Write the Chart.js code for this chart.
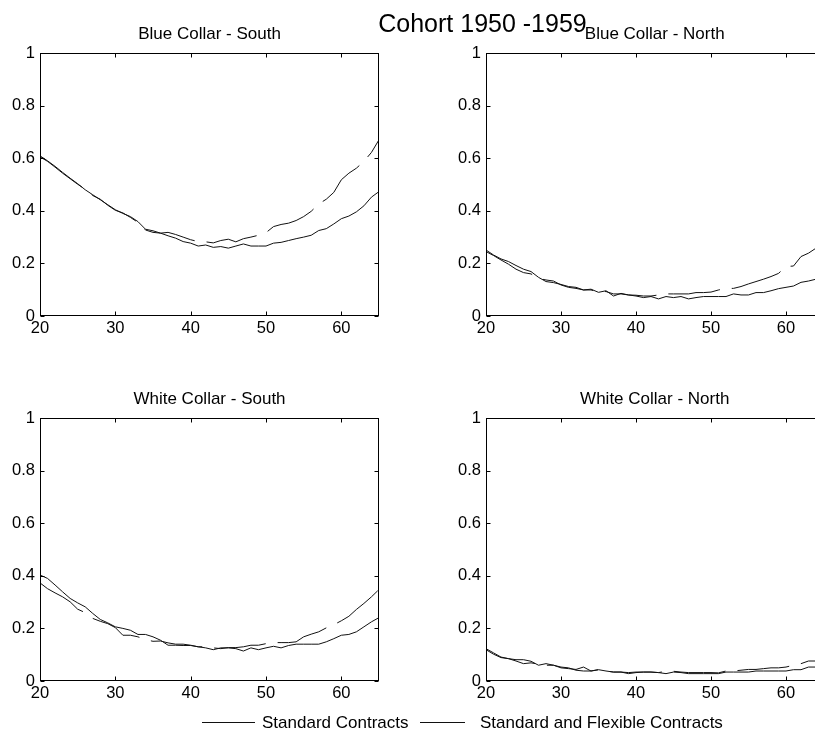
<!DOCTYPE html>
<html>
<head>
<meta charset="utf-8">
<title>Cohort 1950 -1959</title>
<script src="https://cdn.jsdelivr.net/npm/chart.js@4.4.1/dist/chart.umd.min.js"></script>
<style>
  html, body { margin: 0; padding: 0; background: #fff; width: 815px; height: 733px; overflow: hidden; }
  body { position: relative; font-family: "Liberation Sans", Arial, Helvetica, sans-serif; color: #000; }
  canvas { position: absolute; }
  #mainTitle { position: absolute; left: 0; width: 965px; top: 11px; text-align: center;
               font-size: 25px; line-height: 25px; white-space: nowrap; z-index: 2; }
  .key-line { position: absolute; height: 0; border-top: 1px solid #111; }
  .key-text { position: absolute; font-size: 17px; line-height: 17px; white-space: nowrap; }
</style>
</head>
<body>
<div id="mainTitle">Cohort 1950 -1959</div>

<canvas id="bcSouth" width="400" height="350" style="left:0px;top:0px"></canvas>
<canvas id="bcNorth" width="400" height="350" style="left:446px;top:0px"></canvas>
<canvas id="wcSouth" width="400" height="350" style="left:0px;top:365px"></canvas>
<canvas id="wcNorth" width="400" height="350" style="left:446px;top:365px"></canvas>

<div class="key-line" style="left:202px;top:722px;width:53px"></div>
<div class="key-text" style="left:262px;top:714px">Standard Contracts</div>
<div class="key-line" style="left:420px;top:722px;width:45px"></div>
<div class="key-text" style="left:480px;top:714px">Standard and Flexible Contracts</div>

<script>
// Age axis and tick labels
const ages = [20,21,22,23,24,25,26,27,28,29,30,31,32,33,34,35,36,37,38,39,
              40,41,42,43,44,45,46,47,48,49,50,51,52,53,54,55,56,57,58,59,
              60,61,62,63,64,65];
const xTicks = [20, 30, 40, 50, 60];
const yTicks = [0, 0.2, 0.4, 0.6, 0.8, 1];

const seriesNames = ['Standard Contracts', 'Standard and Flexible Contracts'];

// Blue Collar - South
const bcSouthStd = [0.609,0.590,0.569,0.546,0.524,0.503,0.480,0.461,0.442,0.423,
                    0.404,0.390,0.378,0.359,0.330,0.324,0.315,0.305,0.296,0.283,
                    0.277,0.266,0.270,0.261,0.264,0.258,0.266,0.274,0.266,0.266,
                    0.266,0.277,0.280,0.287,0.294,0.300,0.307,0.325,0.332,0.350,
                    0.370,0.380,0.396,0.419,0.452,0.473];
const bcSouthFlex = [0.605,0.588,0.566,0.543,0.522,0.501,0.482,0.458,0.444,0.421,
                     0.402,0.392,0.375,0.356,0.327,0.318,0.315,0.318,0.310,0.300,
                     0.290,0.283,0.282,0.278,0.287,0.292,0.282,0.294,0.300,0.307,
                     0.317,0.340,0.348,0.353,0.363,0.378,0.398,0.426,0.444,0.470,
                     0.518,0.543,0.562,0.588,0.622,0.670];

// Blue Collar - North
const bcNorthStd = [0.251,0.232,0.217,0.207,0.192,0.178,0.169,0.147,0.131,0.127,
                    0.120,0.112,0.109,0.099,0.102,0.090,0.096,0.076,0.086,0.080,
                    0.076,0.070,0.074,0.065,0.074,0.070,0.074,0.065,0.070,0.074,
                    0.074,0.074,0.074,0.084,0.080,0.080,0.089,0.089,0.096,0.104,
                    0.109,0.114,0.128,0.133,0.140,0.145];
const bcNorthFlex = [0.245,0.230,0.213,0.197,0.178,0.165,0.160,0.143,0.137,0.133,
                     0.118,0.109,0.105,0.099,0.099,0.091,0.093,0.084,0.084,0.080,
                     0.079,0.076,0.076,0.080,0.084,0.084,0.084,0.084,0.089,0.089,
                     0.091,0.099,0.105,0.105,0.112,0.122,0.131,0.140,0.150,0.162,
                     0.188,0.190,0.226,0.239,0.258,0.270];

// White Collar - South
const wcSouthStd = [0.403,0.390,0.365,0.339,0.314,0.297,0.282,0.257,0.234,0.221,
                    0.206,0.200,0.193,0.177,0.177,0.168,0.155,0.136,0.136,0.135,
                    0.135,0.130,0.126,0.119,0.126,0.126,0.123,0.114,0.126,0.119,
                    0.126,0.132,0.126,0.135,0.140,0.140,0.140,0.140,0.149,0.161,
                    0.174,0.177,0.187,0.206,0.225,0.241];
const wcSouthFlex = [0.373,0.351,0.335,0.320,0.301,0.273,0.260,0.238,0.227,0.218,
                     0.203,0.174,0.174,0.168,0.157,0.151,0.152,0.145,0.140,0.140,
                     0.136,0.130,0.130,0.126,0.123,0.127,0.127,0.130,0.136,0.136,
                     0.142,0.146,0.146,0.146,0.149,0.168,0.178,0.187,0.202,0.214,
                     0.229,0.246,0.272,0.295,0.320,0.348];

// White Collar - North
const wcNorthStd = [0.123,0.107,0.091,0.085,0.081,0.081,0.075,0.060,0.066,0.060,
                    0.050,0.047,0.044,0.053,0.038,0.043,0.038,0.034,0.034,0.028,
                    0.032,0.034,0.034,0.032,0.028,0.034,0.032,0.028,0.028,0.028,
                    0.028,0.028,0.034,0.034,0.034,0.034,0.038,0.038,0.038,0.038,
                    0.038,0.043,0.043,0.053,0.053,0.055];
const wcNorthFlex = [0.119,0.102,0.089,0.085,0.076,0.066,0.069,0.064,0.060,0.060,
                     0.053,0.050,0.041,0.038,0.038,0.043,0.038,0.034,0.034,0.032,
                     0.034,0.034,0.034,0.032,0.037,0.037,0.034,0.032,0.032,0.032,
                     0.032,0.031,0.038,0.038,0.041,0.044,0.044,0.047,0.050,0.050,
                     0.053,0.060,0.066,0.076,0.076,0.077];

const FONT = '"Liberation Sans", Arial, Helvetica, sans-serif';

// Box frame, inward tick marks and panel title
const framePlugin = {
  id: 'frame',
  afterDraw(chart, args, opts) {
    const ctx = chart.ctx;
    const a = chart.chartArea;
    const xs = chart.scales.x, ys = chart.scales.y;
    const L = Math.round(a.left) + 0.5, R = Math.round(a.right) - 0.5;
    const T = Math.round(a.top) + 0.5, B = Math.round(a.bottom) - 0.5;
    ctx.save();
    ctx.strokeStyle = '#000';
    ctx.lineWidth = 1;
    ctx.strokeRect(L, T, R - L, B - T);
    ctx.beginPath();
    xs.ticks.forEach(t => {
      const px = Math.round(xs.getPixelForValue(t.value)) + 0.5;
      ctx.moveTo(px, B); ctx.lineTo(px, B - 4);
      ctx.moveTo(px, T); ctx.lineTo(px, T + 4);
    });
    ys.ticks.forEach(t => {
      const py = Math.round(ys.getPixelForValue(t.value)) + 0.5;
      ctx.moveTo(L, py); ctx.lineTo(L + 4, py);
      ctx.moveTo(R, py); ctx.lineTo(R - 4, py);
    });
    ctx.stroke();
    ctx.fillStyle = '#000';
    ctx.font = '17px ' + FONT;
    ctx.textAlign = 'center';
    ctx.textBaseline = 'alphabetic';
    ctx.fillText(opts.text, (a.left + a.right) / 2, a.top - 14);
    ctx.restore();
  }
};

function points(values) {
  return ages.map((age, i) => ({ x: age, y: values[i] }));
}

function panel(id, title, std, flex, pad) {
  return new Chart(document.getElementById(id), {
    type: 'line',
    data: {
      datasets: [
        { label: seriesNames[0], data: points(std), borderColor: '#111', borderWidth: 1,
          pointRadius: 0, tension: 0, fill: false },
        { label: seriesNames[1], data: points(flex), borderColor: '#111', borderWidth: 1,
          borderDash: [52, 12], pointRadius: 0, tension: 0, fill: false }
      ]
    },
    options: {
      responsive: false,
      animation: false,
      devicePixelRatio: 1,
      events: [],
      layout: { padding: pad },
      plugins: {
        legend: { display: false },
        tooltip: { enabled: false },
        frame: { text: title }
      },
      scales: {
        x: {
          type: 'linear', min: 20, max: 65,
          grid: { display: false, drawTicks: false },
          border: { display: false },
          afterBuildTicks: s => { s.ticks = xTicks.map(v => ({ value: v })); },
          afterFit: s => { s.height = 30; s.paddingLeft = 0; s.paddingRight = 0; },
          ticks: { color: '#000', font: { family: FONT, size: 16.5 }, padding: 3,
                   maxRotation: 0, autoSkip: false, callback: v => String(v) }
        },
        y: {
          type: 'linear', min: 0, max: 1,
          grid: { display: false, drawTicks: false },
          border: { display: false },
          afterBuildTicks: s => { s.ticks = yTicks.map(v => ({ value: v })); },
          afterFit: s => { s.width = 40; s.paddingTop = 0; s.paddingBottom = 0; },
          ticks: { color: '#000', font: { family: FONT, size: 16.5 }, padding: 5,
                   autoSkip: false, callback: v => String(v) }
        }
      }
    },
    plugins: [framePlugin]
  });
}

panel('bcSouth', 'Blue Collar - South', bcSouthStd, bcSouthFlex, { left: 0, top: 53, right: 21, bottom: 4 });
panel('bcNorth', 'Blue Collar - North', bcNorthStd, bcNorthFlex, { left: 0, top: 53, right: 22.5, bottom: 4 });
panel('wcSouth', 'White Collar - South', wcSouthStd, wcSouthFlex, { left: 0, top: 53, right: 21, bottom: 4 });
panel('wcNorth', 'White Collar - North', wcNorthStd, wcNorthFlex, { left: 0, top: 53, right: 22.5, bottom: 4 });
</script>
</body>
</html>
